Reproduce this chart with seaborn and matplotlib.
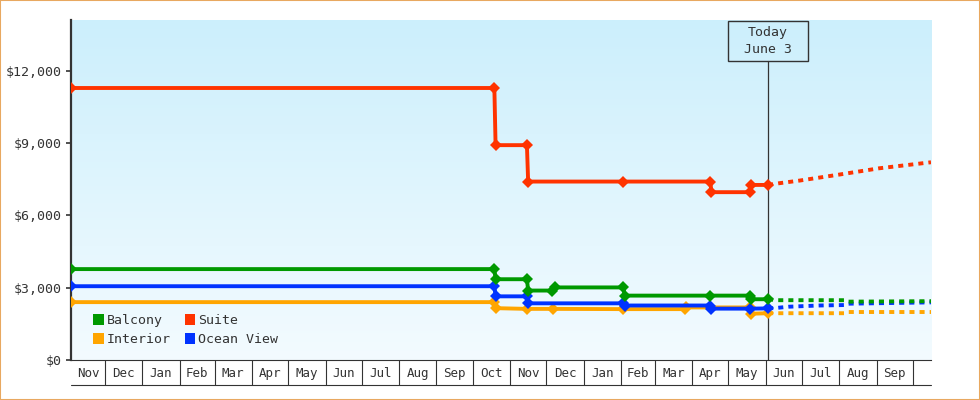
import numpy as np
import pandas as pd
import matplotlib
matplotlib.use("Agg")
import matplotlib.pyplot as plt
import matplotlib.dates as mdates
from matplotlib.patches import Patch, Rectangle
from matplotlib.lines import Line2D
from matplotlib.transforms import blended_transform_factory
import seaborn as sns

# ---------------- data ----------------
series_names = ["Interior", "Ocean View", "Balcony", "Suite"]
series_colors = {"Balcony": "#009900", "Suite": "#ff3300",
                 "Interior": "#ffa500", "Ocean View": "#0033ff"}

suite_dates = ["2023-11-03", "2024-10-19", "2024-10-20", "2024-11-15", "2024-11-16",
               "2025-02-03", "2025-04-16", "2025-04-17", "2025-05-19", "2025-05-20", "2025-06-03"]
suite_values = [11280, 11280, 8910, 8910, 7400, 7400, 7400, 6960, 6960, 7260, 7260]

balcony_dates = ["2023-11-03", "2024-10-19", "2024-10-20", "2024-11-15", "2024-11-16",
                 "2024-12-06", "2024-12-08", "2025-02-03", "2025-02-04", "2025-04-16",
                 "2025-05-19", "2025-05-20", "2025-06-03"]
balcony_values = [3770, 3770, 3350, 3350, 2880, 2880, 3010, 3010, 2670, 2670, 2670, 2520, 2520]

ocean_dates = ["2023-11-03", "2024-10-19", "2024-10-20", "2024-11-15", "2024-11-16",
               "2025-02-03", "2025-02-04", "2025-04-16", "2025-04-17", "2025-05-19", "2025-06-03"]
ocean_values = [3060, 3060, 2640, 2640, 2350, 2350, 2260, 2260, 2130, 2130, 2140]

interior_dates = ["2023-11-03", "2024-10-19", "2024-10-20", "2024-11-15", "2024-12-07",
                  "2025-02-03", "2025-03-26", "2025-03-27", "2025-04-16", "2025-05-19",
                  "2025-05-20", "2025-06-03"]
interior_values = [2400, 2400, 2150, 2120, 2120, 2110, 2110, 2180, 2180, 2180, 1920, 1940]

# forecasts (dotted)
suite_fc_dates = ["2025-06-03", "2025-06-12", "2025-06-29", "2025-08-01", "2025-09-03", "2025-10-16"]
suite_fc_values = [7260, 7330, 7440, 7690, 7950, 8200]
balcony_fc_dates = ["2025-06-03", "2025-06-10", "2025-08-06", "2025-08-08", "2025-10-16"]
balcony_fc_values = [2520, 2480, 2480, 2420, 2440]
ocean_fc_dates = ["2025-06-03", "2025-06-10", "2025-06-20", "2025-07-15", "2025-08-06", "2025-08-08", "2025-10-16"]
ocean_fc_values = [2140, 2160, 2210, 2260, 2280, 2335, 2390]
interior_fc_dates = ["2025-06-03", "2025-08-06", "2025-08-08", "2025-10-16"]
interior_fc_values = [1940, 1940, 1990, 1990]

today_date = "2025-06-03"
today_label = "Today\nJune 3"
x_start, x_end = "2023-11-03", "2025-10-16"
y_ticks = [0, 3000, 6000, 9000, 12000]
y_max = 14100

legend_order = ["Balcony", "Interior", "Suite", "Ocean View"]

# ---------------- frames ----------------
def frame(name, dates, values):
    return pd.DataFrame({"date": pd.to_datetime(dates), "price": values, "cabin": name})

hist = pd.concat([frame("Interior", interior_dates, interior_values),
                  frame("Ocean View", ocean_dates, ocean_values),
                  frame("Balcony", balcony_dates, balcony_values),
                  frame("Suite", suite_dates, suite_values)], ignore_index=True)
fc = pd.concat([frame("Interior", interior_fc_dates, interior_fc_values),
                frame("Ocean View", ocean_fc_dates, ocean_fc_values),
                frame("Balcony", balcony_fc_dates, balcony_fc_values),
                frame("Suite", suite_fc_dates, suite_fc_values)], ignore_index=True)

# ---------------- figure ----------------
sns.set_theme(style="white")
plt.rcParams["font.family"] = ["DejaVu Sans Mono", "DejaVu Sans"]
TXT = "#333333"

fig = plt.figure(figsize=(9.8, 4.0), dpi=100)
fig.patch.set_facecolor("white")
pos = [71 / 980, 40 / 400, 860 / 980, 340 / 400]

bg = fig.add_axes(pos, zorder=0)
grad = np.linspace(0, 1, 256).reshape(-1, 1)
top = np.array([0xcc, 0xef, 0xfc]) / 255
bot = np.array([0xf3, 0xfb, 0xff]) / 255
img = top[None, None, :] * (1 - grad[:, :, None]) + bot[None, None, :] * grad[:, :, None]
bg.imshow(img, aspect="auto", extent=[0, 1, 0, 1])
bg.set_axis_off()

ax = fig.add_axes(pos, zorder=1)
ax.set_facecolor("none")

for name in series_names:
    d = fc[fc.cabin == name]
    sns.lineplot(data=d, x="date", y="price", color=series_colors[name], ax=ax,
                 linewidth=2.8, linestyle=(0, (1.3, 1.3)), legend=False, zorder=2)
for name in series_names:
    d = hist[hist.cabin == name]
    sns.lineplot(data=d, x="date", y="price", color=series_colors[name], ax=ax,
                 linewidth=2.8, marker="D", markersize=6, markeredgewidth=0,
                 legend=False, zorder=3)

xmin, xmax = pd.Timestamp(x_start), pd.Timestamp(x_end)
ax.set_xlim(xmin, xmax)
ax.set_ylim(0, y_max)
ax.set_xlabel("")
ax.set_ylabel("")

# y axis
ax.set_yticks(y_ticks)
ax.yaxis.set_major_formatter(matplotlib.ticker.FuncFormatter(lambda v, p: f"${v:,.0f}"))
ax.tick_params(axis="y", which="major", left=True, length=3.6, width=1.2, color=TXT,
               labelsize=9.5, labelcolor=TXT, pad=3)

# x axis: month cells
month_starts = pd.date_range(xmin.to_period("M").to_timestamp(), xmax, freq="MS")
bounds = [xmin] + [m for m in month_starts if m > xmin] + [xmax]
centers, labels = [], []
for a, b in zip(bounds[:-1], bounds[1:]):
    if (b - a).days < 25:
        continue
    centers.append(a + (b - a) / 2)
    labels.append(a.strftime("%b"))
ax.set_xticks([m for m in month_starts if m > xmin])
ax.set_xticklabels([])
ax.set_xticks(centers, minor=True)
ax.set_xticklabels(labels, minor=True)
ax.tick_params(axis="x", which="major", bottom=True, length=18, width=0.8, color=TXT, direction="out")
ax.tick_params(axis="x", which="minor", bottom=True, length=0, labelsize=9, labelcolor=TXT, pad=5)

for s in ["top", "right"]:
    ax.spines[s].set_visible(False)
ax.spines["left"].set_color(TXT)
ax.spines["left"].set_linewidth(1.6)
ax.spines["bottom"].set_color(TXT)
ax.spines["bottom"].set_linewidth(0.8)
ax.add_line(Line2D([0, 1], [-25 / 340, -25 / 340], transform=ax.transAxes,
                   color=TXT, linewidth=0.8, clip_on=False))

# today marker
today = pd.Timestamp(today_date)
box_bottom = (360 - 60.7) / 340
ax.axvline(today, ymin=0, ymax=box_bottom, color=TXT, linewidth=0.9, zorder=1)
trans = blended_transform_factory(ax.transData, ax.transAxes)
tnum = mdates.date2num(today)
half = 33.3  # days
ax.add_patch(Rectangle((tnum - half, box_bottom), 2 * half, 1 - box_bottom - 0.002,
                       transform=trans, facecolor="none", edgecolor=TXT, linewidth=1.0,
                       clip_on=False, zorder=4))
ax.text(tnum, (360 - 41) / 340, today_label, transform=trans, ha="center", va="center",
        fontsize=9.5, color=TXT, linespacing=1.35, zorder=5)

# legend
handles = [Patch(facecolor=series_colors[n], edgecolor="none", label=n) for n in legend_order]
ax.legend(handles=handles, ncol=2, loc="upper left", bbox_to_anchor=(0.026, 0.135),
          frameon=False, fontsize=9.5, handlelength=0.81, handleheight=0.81,
          handletextpad=0.2, columnspacing=1.06, labelspacing=0.45, borderpad=0,
          borderaxespad=0, labelcolor=TXT)

# figure border
fig.add_artist(Rectangle((0, 0), 1, 1, transform=fig.transFigure, facecolor="none",
                         edgecolor="#e8a860", linewidth=1.5, clip_on=False))

fig.savefig("out.png", dpi=100)
